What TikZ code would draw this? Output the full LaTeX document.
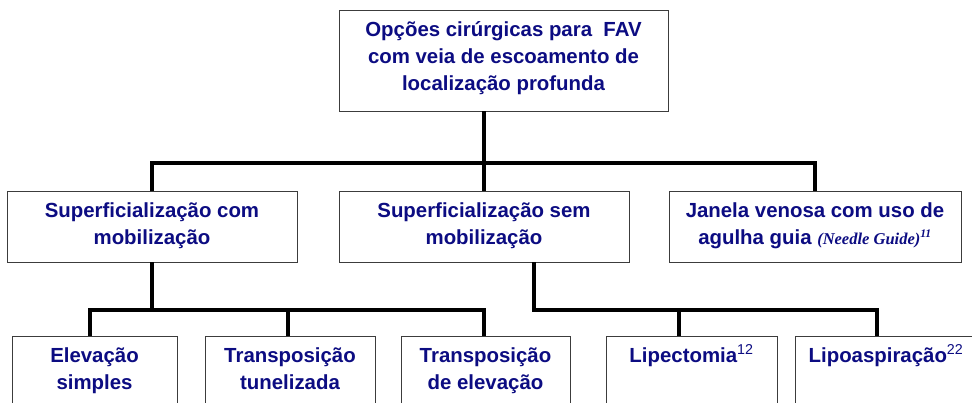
\documentclass[tikz,border=0pt]{standalone}
\usepackage{fontspec}
\setmainfont{Liberation Sans}
\newfontfamily\tnrfont{Liberation Serif}
\definecolor{navytext}{RGB}{12,12,130}
\definecolor{boxline}{RGB}{60,60,60}
\newcommand{\boxtext}[3]{\parbox[c][#2][t]{#1}{\centering\fontsize{20.4}{27}\selectfont\bfseries\color{navytext}\rule{0pt}{26pt}#3\par}}
\tikzset{
  boxnode/.style={draw=boxline, line width=0.9pt, inner sep=0pt, outer sep=0pt, anchor=north west, fill=white},
  conn/.style={line width=3.3pt, black}
}
\begin{document}
\begin{tikzpicture}[x=1pt,y=-1pt]
\useasboundingbox (0,0) rectangle (972,402);
\clip (0,0) rectangle (972,402);
\fill[white] (0,0) rectangle (972,402);
% top
\node[boxnode] (top) at (339,10) {\boxtext{329pt}{101pt}{Opções cirúrgicas para~ FAV\\com veia de escoamento de\\localização profunda}};
% middle
\node[boxnode] (m1) at (7,191) {\boxtext{290pt}{71pt}{Superficialização com\\mobilização}};
\node[boxnode] (m2) at (339,191) {\boxtext{290pt}{71pt}{Superficialização sem\\mobilização}};
\node[boxnode] (m3) at (669,191) {\boxtext{292pt}{71pt}{Janela venosa com uso de\\agulha guia {\tnrfont\bfseries\itshape\fontsize{16.5}{27}\selectfont (Needle Guide)\textsuperscript{11}}}};
% bottom
\node[boxnode] (b1) at (12,336) {\boxtext{165pt}{80pt}{Elevação\\simples}};
\node[boxnode] (b2) at (205,336) {\boxtext{170pt}{80pt}{Transposição\\tunelizada}};
\node[boxnode] (b3) at (401,336) {\boxtext{169pt}{80pt}{Transposição\\de elevação}};
\node[boxnode] (b4) at (606,336) {\boxtext{171pt}{80pt}{Lipectomia\textsuperscript{\mdseries 12}}};
\node[boxnode] (b5) at (795,336) {\boxtext{182pt}{80pt}{Lipoaspiração\textsuperscript{\mdseries 22}}};
% junction coordinates
\coordinate (h1) at (484,163);
\coordinate (h2) at (152,310);
\coordinate (h3) at (534,310);
\coordinate (s2) at (534,262);
\coordinate (d1) at (90,336);
\coordinate (d2) at (288,336);
\coordinate (d3) at (484,336);
\coordinate (d4) at (679,336);
\coordinate (d5) at (877,336);
% connectors
\draw[conn] (top.south -| h1) -- (m2.north -| h1);
\draw[conn] (m1.north) |- (h1) -| (m3.north);
\draw[conn] (m1.south) -- (h2);
\draw[conn] (d1) |- (h2) -| (d3);
\draw[conn] (d2) -- (d2 |- h2);
\draw[conn] (s2) -- (h3) -| (d5);
\draw[conn] (d4) -- (d4 |- h3);
\end{tikzpicture}
\end{document}
